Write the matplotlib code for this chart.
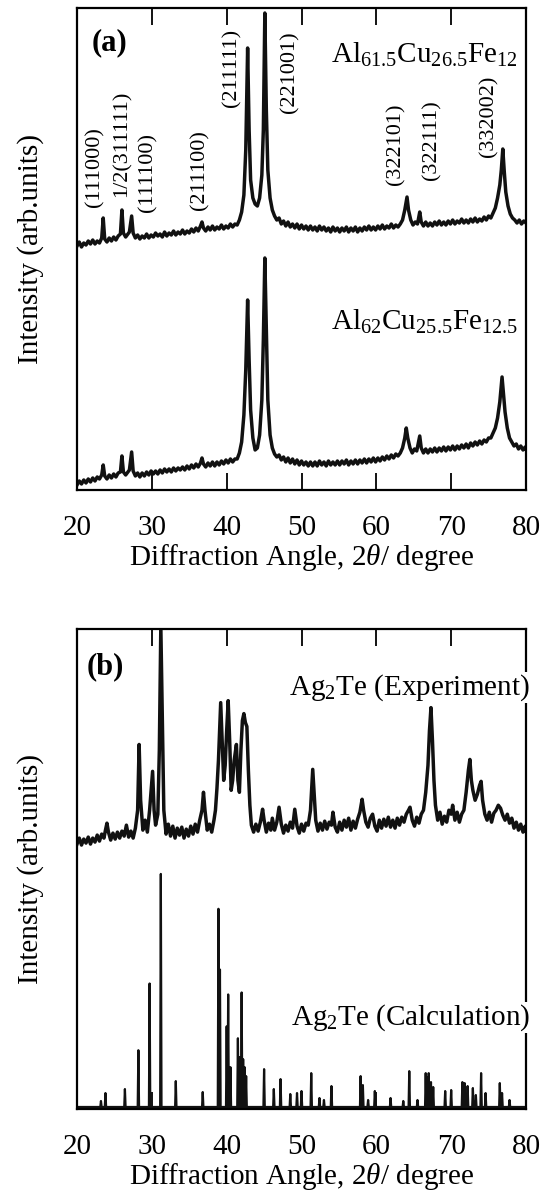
import matplotlib
matplotlib.use("Agg")
import matplotlib.pyplot as plt

plt.rcParams.update({
    "font.family": "Liberation Serif",
    "mathtext.fontset": "custom",
    "mathtext.rm": "Liberation Serif",
    "mathtext.it": "Liberation Serif:italic",
    "mathtext.bf": "Liberation Serif:bold",
})

# ---- panel (a): Al-Cu-Fe patterns, (2theta, intensity) ----
AL615 = [
    (20.0, 244), (20.3, 248), (20.6, 243), (20.9, 247), (21.2, 245), (21.5, 249), (21.8, 246),
    (22.1, 250), (22.4, 246), (22.7, 249), (23.0, 247), (23.3, 252), (23.5, 272), (23.7, 251),
    (24.0, 248), (24.3, 252), (24.6, 249), (24.9, 253), (25.2, 250), (25.5, 254), (25.8, 256),
    (26.0, 280), (26.2, 257), (26.5, 253), (26.8, 256), (27.0, 258), (27.3, 274), (27.5, 257),
    (27.8, 252), (28.1, 255), (28.4, 251), (28.7, 254), (29.0, 252), (29.3, 256), (29.6, 252),
    (29.9, 255), (30.2, 253), (30.5, 257), (30.8, 254), (31.1, 256), (31.4, 253), (31.7, 258),
    (32.0, 254), (32.3, 257), (32.6, 255), (32.9, 259), (33.2, 255), (33.5, 258), (33.8, 256),
    (34.1, 260), (34.4, 256), (34.7, 259), (35.0, 257), (35.3, 261), (35.6, 258), (35.9, 262),
    (36.2, 259), (36.5, 264), (36.7, 268), (36.9, 262), (37.2, 259), (37.5, 263), (37.8, 260),
    (38.1, 264), (38.4, 260), (38.7, 263), (39.0, 261), (39.3, 265), (39.6, 261), (39.9, 264),
    (40.2, 262), (40.5, 266), (40.8, 263), (41.1, 266), (41.4, 265), (41.7, 270), (42.0, 278),
    (42.3, 295), (42.55, 340), (42.8, 442), (43.0, 360), (43.2, 310), (43.5, 292), (43.8, 286),
    (44.1, 284), (44.4, 292), (44.7, 315), (44.9, 360), (45.1, 477), (45.3, 380), (45.5, 320),
    (45.8, 292), (46.1, 280), (46.4, 274), (46.7, 270), (47.0, 272), (47.3, 266), (47.6, 269),
    (47.9, 264), (48.2, 268), (48.5, 263), (48.8, 266), (49.1, 262), (49.4, 266), (49.7, 261),
    (50.0, 265), (50.3, 261), (50.6, 264), (50.9, 260), (51.2, 264), (51.5, 260), (51.8, 263),
    (52.1, 259), (52.4, 264), (52.7, 260), (53.0, 263), (53.3, 259), (53.6, 262), (53.9, 258),
    (54.2, 263), (54.5, 259), (54.8, 262), (55.1, 258), (55.4, 262), (55.7, 259), (56.0, 263),
    (56.3, 258), (56.6, 262), (56.9, 259), (57.2, 263), (57.5, 258), (57.8, 262), (58.1, 259),
    (58.4, 263), (58.7, 260), (59.0, 264), (59.3, 260), (59.6, 263), (59.9, 260), (60.2, 264),
    (60.5, 261), (60.8, 265), (61.1, 261), (61.4, 264), (61.7, 262), (62.0, 266), (62.3, 262),
    (62.6, 265), (62.9, 263), (63.2, 266), (63.5, 270), (63.8, 280), (64.1, 293), (64.3, 280),
    (64.6, 270), (64.9, 265), (65.2, 268), (65.5, 266), (65.8, 278), (66.0, 268), (66.3, 264),
    (66.6, 268), (66.9, 264), (67.2, 267), (67.5, 264), (67.8, 268), (68.1, 265), (68.4, 269),
    (68.7, 265), (69.0, 268), (69.3, 265), (69.6, 269), (69.9, 266), (70.2, 270), (70.5, 266),
    (70.8, 269), (71.1, 267), (71.4, 271), (71.7, 267), (72.0, 270), (72.3, 267), (72.6, 271),
    (72.9, 268), (73.2, 272), (73.5, 268), (73.8, 271), (74.1, 269), (74.4, 273), (74.7, 270),
    (75.0, 274), (75.3, 272), (75.6, 277), (75.9, 282), (76.2, 292), (76.5, 305), (76.7, 320),
    (76.9, 341), (77.1, 318), (77.3, 298), (77.6, 284), (77.9, 276), (78.2, 272), (78.5, 270),
    (78.8, 267), (79.1, 270), (79.4, 266), (79.7, 269), (80.0, 267),
]

AL62 = [
    (20.0, 5), (20.3, 9), (20.6, 6), (20.9, 10), (21.2, 7), (21.5, 11), (21.8, 8), (22.1, 12),
    (22.4, 9), (22.7, 13), (23.0, 11), (23.3, 15), (23.5, 25), (23.7, 14), (24.0, 11),
    (24.3, 15), (24.6, 12), (24.9, 16), (25.2, 13), (25.5, 17), (25.8, 18), (26.0, 34),
    (26.2, 18), (26.5, 15), (26.8, 18), (27.0, 20), (27.3, 38), (27.5, 19), (27.8, 14),
    (28.1, 17), (28.4, 13), (28.7, 17), (29.0, 14), (29.3, 18), (29.6, 15), (29.9, 19),
    (30.2, 16), (30.5, 19), (30.8, 16), (31.1, 20), (31.4, 17), (31.7, 21), (32.0, 18),
    (32.3, 21), (32.6, 18), (32.9, 22), (33.2, 19), (33.5, 22), (33.8, 20), (34.1, 23),
    (34.4, 20), (34.7, 24), (35.0, 21), (35.3, 25), (35.6, 22), (35.9, 26), (36.2, 23),
    (36.5, 27), (36.7, 32), (36.9, 26), (37.2, 23), (37.5, 27), (37.8, 24), (38.1, 28),
    (38.4, 24), (38.7, 28), (39.0, 25), (39.3, 29), (39.6, 26), (39.9, 30), (40.2, 27),
    (40.5, 31), (40.8, 28), (41.1, 31), (41.4, 31), (41.7, 37), (42.0, 48), (42.3, 75),
    (42.55, 120), (42.8, 190), (43.0, 130), (43.2, 80), (43.5, 52), (43.8, 40), (44.1, 42),
    (44.4, 55), (44.7, 90), (44.9, 150), (45.1, 232), (45.3, 160), (45.5, 90), (45.8, 55),
    (46.1, 42), (46.4, 36), (46.7, 33), (47.0, 35), (47.3, 30), (47.6, 33), (47.9, 28),
    (48.2, 32), (48.5, 27), (48.8, 31), (49.1, 26), (49.4, 30), (49.7, 25), (50.0, 29),
    (50.3, 25), (50.6, 28), (50.9, 24), (51.2, 28), (51.5, 24), (51.8, 28), (52.1, 24),
    (52.4, 29), (52.7, 25), (53.0, 28), (53.3, 24), (53.6, 29), (53.9, 25), (54.2, 28),
    (54.5, 25), (54.8, 29), (55.1, 25), (55.4, 29), (55.7, 26), (56.0, 30), (56.3, 25),
    (56.6, 29), (56.9, 26), (57.2, 30), (57.5, 26), (57.8, 30), (58.1, 27), (58.4, 31),
    (58.7, 27), (59.0, 31), (59.3, 28), (59.6, 32), (59.9, 28), (60.2, 32), (60.5, 29),
    (60.8, 33), (61.1, 30), (61.4, 34), (61.7, 31), (62.0, 35), (62.3, 32), (62.6, 36),
    (62.9, 34), (63.2, 37), (63.5, 42), (63.8, 52), (64.0, 62), (64.2, 52), (64.5, 42),
    (64.8, 37), (65.1, 41), (65.4, 39), (65.8, 54), (66.0, 42), (66.3, 37), (66.6, 41),
    (66.9, 37), (67.2, 41), (67.5, 38), (67.8, 42), (68.1, 38), (68.4, 42), (68.7, 39),
    (69.0, 43), (69.3, 39), (69.6, 43), (69.9, 40), (70.2, 44), (70.5, 40), (70.8, 44),
    (71.1, 41), (71.4, 45), (71.7, 42), (72.0, 46), (72.3, 42), (72.6, 47), (72.9, 44),
    (73.2, 48), (73.5, 45), (73.8, 49), (74.1, 46), (74.4, 50), (74.7, 48), (75.0, 52),
    (75.3, 52), (75.6, 57), (75.9, 62), (76.2, 72), (76.5, 88), (76.8, 113), (77.0, 95),
    (77.2, 78), (77.5, 62), (77.8, 52), (78.1, 48), (78.4, 44), (78.7, 46), (79.0, 41),
    (79.3, 44), (79.6, 40), (79.9, 43), (80.0, 41),
]

HKL_LABELS = ["(111000)", "1/2(311111)", "(111100)", "(211100)", "(211111)",
              "(221001)", "(322101)", "(322111)", "(332002)"]
HKL_X = [22.4, 26.0, 29.5, 36.4, 40.7, 48.5, 62.6, 67.4, 75.0]
HKL_Y = [283, 293, 278, 280, 383, 377, 305, 310, 333]

# ---- panel (b): Ag2Te experiment and calculated pattern ----
AG2TE_EXP = [
    (20.0, 266), (20.3, 272), (20.6, 265), (20.9, 271), (21.2, 267), (21.5, 273), (21.8, 266),
    (22.1, 272), (22.4, 268), (22.7, 275), (23.0, 269), (23.3, 276), (23.6, 272), (23.8, 280),
    (24.0, 287), (24.2, 278), (24.5, 270), (24.8, 277), (25.1, 271), (25.4, 278), (25.7, 272),
    (26.0, 279), (26.3, 274), (26.6, 285), (26.9, 273), (27.2, 279), (27.5, 272), (27.8, 282),
    (28.1, 300), (28.3, 366), (28.5, 310), (28.8, 280), (29.1, 290), (29.4, 278), (29.7, 300),
    (29.9, 320), (30.1, 339), (30.3, 300), (30.5, 285), (30.8, 296), (31.0, 360), (31.2, 485),
    (31.4, 390), (31.6, 300), (31.9, 276), (32.2, 286), (32.5, 274), (32.8, 284), (33.1, 272),
    (33.4, 282), (33.7, 275), (34.0, 283), (34.3, 272), (34.6, 281), (34.9, 274), (35.2, 284),
    (35.5, 276), (35.8, 286), (36.1, 278), (36.4, 290), (36.7, 300), (36.9, 318), (37.1, 300),
    (37.4, 280), (37.7, 286), (38.0, 278), (38.3, 290), (38.5, 300), (38.7, 322), (38.9, 350),
    (39.2, 408), (39.4, 370), (39.6, 330), (39.8, 345), (40.0, 380), (40.2, 410), (40.4, 370),
    (40.6, 320), (40.8, 330), (41.0, 350), (41.3, 366), (41.5, 330), (41.7, 318), (41.9, 360),
    (42.1, 390), (42.3, 397), (42.5, 388), (42.7, 384), (42.9, 340), (43.1, 305), (43.3, 285),
    (43.6, 278), (43.9, 286), (44.2, 279), (44.5, 288), (44.8, 301), (45.0, 290), (45.3, 278),
    (45.6, 287), (45.9, 280), (46.1, 292), (46.4, 280), (46.7, 288), (47.0, 303), (47.3, 286),
    (47.6, 277), (47.9, 285), (48.2, 279), (48.5, 288), (48.8, 282), (49.1, 301), (49.4, 284),
    (49.7, 277), (50.0, 286), (50.3, 279), (50.6, 287), (50.9, 285), (51.2, 300), (51.5, 341),
    (51.7, 315), (51.9, 290), (52.2, 279), (52.5, 287), (52.8, 280), (53.1, 289), (53.4, 281),
    (53.7, 288), (54.0, 285), (54.2, 298), (54.5, 283), (54.8, 278), (55.1, 288), (55.4, 280),
    (55.7, 290), (56.0, 283), (56.3, 292), (56.6, 280), (56.9, 289), (57.2, 282), (57.5, 291),
    (57.8, 298), (58.1, 311), (58.3, 300), (58.6, 288), (58.9, 283), (59.2, 292), (59.5, 296),
    (59.8, 284), (60.1, 279), (60.4, 290), (60.7, 282), (61.0, 291), (61.3, 284), (61.6, 293),
    (61.9, 283), (62.2, 290), (62.5, 282), (62.8, 292), (63.1, 285), (63.4, 293), (63.7, 288),
    (64.0, 296), (64.3, 300), (64.5, 303), (64.8, 290), (65.1, 284), (65.4, 293), (65.7, 287),
    (66.0, 296), (66.3, 300), (66.6, 318), (66.9, 345), (67.1, 380), (67.3, 403), (67.5, 370),
    (67.7, 330), (67.9, 305), (68.2, 290), (68.5, 298), (68.8, 286), (69.1, 294), (69.4, 288),
    (69.7, 300), (70.0, 296), (70.2, 305), (70.5, 290), (70.8, 298), (71.1, 288), (71.4, 296),
    (71.7, 300), (72.0, 318), (72.3, 340), (72.5, 351), (72.7, 330), (72.9, 320), (73.2, 310),
    (73.5, 316), (73.8, 325), (74.0, 329), (74.2, 310), (74.5, 296), (74.8, 290), (75.1, 298),
    (75.4, 288), (75.7, 297), (76.0, 300), (76.3, 305), (76.6, 302), (76.9, 295), (77.2, 290),
    (77.5, 296), (77.8, 287), (78.1, 292), (78.4, 282), (78.7, 288), (79.0, 280), (79.3, 286),
    (79.6, 278), (79.9, 284), (80.0, 279),
]

CALC_POS = [23.2, 23.8, 26.4, 28.2, 29.7, 31.2, 33.2, 36.8, 38.9, 39.1, 40.0, 40.2, 40.5,
            41.5, 41.7, 42.0, 42.2, 42.4, 42.6, 45.0, 46.3, 47.2, 48.5, 49.4, 50.0, 51.3,
            52.4, 53.0, 54.0, 57.9, 58.2, 58.9, 59.8, 61.9, 63.6, 64.4, 65.5, 66.6, 66.8,
            67.0, 67.3, 67.6, 69.2, 70.0, 71.5, 71.8, 72.2, 72.9, 73.3, 74.0, 74.6, 76.5,
            76.8, 77.8]
CALC_INT = [6, 14, 18, 57, 124, 234, 26, 15, 199, 138, 81, 113, 40,
            69, 50, 115, 48, 40, 31, 38, 18, 28, 13, 14, 16, 34,
            9, 7, 21, 31, 22, 7, 16, 9, 6, 36, 7, 34, 30,
            34, 25, 20, 16, 17, 25, 24, 21, 19, 12, 34, 14, 24,
            14, 7]
CALC_BASE = 2

XTICKS = [20, 30, 40, 50, 60, 70, 80]
FS = 21


def stick_profile(pos, inten, base, hw=0.09):
    xs, ys = [20.0], [base]
    for c, h in zip(pos, inten):
        xs += [c - hw, c, c + hw]
        ys += [base, base + h, base]
    xs.append(80.0)
    ys.append(base)
    return xs, ys


def style_axes(ax):
    ax.set_xlim(20, 80)
    ax.set_ylim(0, 482)
    ax.set_xticks(XTICKS)
    ax.set_yticks([])
    ax.tick_params(axis="x", direction="in", top=True, length=12, width=1.3,
                   labelsize=FS, pad=18)
    for spine in ax.spines.values():
        spine.set_linewidth(1.6)
    ax.set_xlabel(r"Diffraction Angle, 2$\it{\theta}$/ degree", fontsize=FS, labelpad=1)


fig = plt.figure(figsize=(5.47, 11.98), dpi=100)
ax_a = fig.add_axes([0.1408, 0.5910, 0.8208, 0.4023])
ax_b = fig.add_axes([0.1408, 0.0743, 0.8208, 0.4007])

for series in (AL615, AL62):
    xs, ys = zip(*series)
    ax_a.plot(xs, ys, color="#111111", lw=2.5)
style_axes(ax_a)
for lab, x, y in zip(HKL_LABELS, HKL_X, HKL_Y):
    ax_a.text(x, y, lab, rotation=90, ha="center", va="bottom", fontsize=16)
ax_a.text(78.96, 427, r"Al$_{61.5}$Cu$_{26.5}$Fe$_{12}$", ha="right", va="baseline", fontsize=FS)
ax_a.text(78.96, 160, r"Al$_{62}$Cu$_{25.5}$Fe$_{12.5}$", ha="right", va="baseline", fontsize=FS)
ax_a.text(0.033, 0.958, "(a)", transform=ax_a.transAxes, ha="left", va="top",
          fontsize=22, fontweight="bold")

xs, ys = zip(*AG2TE_EXP)
ax_b.plot(xs, ys, color="#111111", lw=2.5)
cx, cy = stick_profile(CALC_POS, CALC_INT, CALC_BASE)
ax_b.plot(cx, cy, color="#111111", lw=1.6)
style_axes(ax_b)
for lab, y in [("Ag$_2$Te (Experiment)", 416), ("Ag$_2$Te (Calculation)", 85)]:
    ax_b.text(80.5, y, lab, ha="right", va="baseline", fontsize=FS, clip_on=False,
              zorder=5, bbox=dict(facecolor="white", edgecolor="none", pad=0))
ax_b.text(0.022, 0.952, "(b)", transform=ax_b.transAxes, ha="left", va="top",
          fontsize=22, fontweight="bold")

for yc in (0.5910 + 0.4023 / 2, 0.0743 + 0.4007 / 2):
    fig.text(31 / 547, yc, "Intensity (arb.units)", rotation=90, ha="center", va="center",
             fontsize=FS)

fig.savefig("out.png", dpi=100)
